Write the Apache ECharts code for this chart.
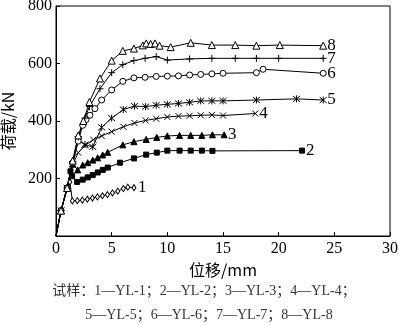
<!DOCTYPE html>
<html><head><meta charset="utf-8">
<script src="https://cdn.jsdelivr.net/npm/echarts@6/dist/echarts.min.js"></script>
<style>html,body{margin:0;padding:0;background:#fff}#c{width:400px;height:325px}</style>
</head><body><div id="c"></div>
<script>
// displacement (mm), load (kN)
const yl1 = [[0,0],[0.45,88],[1.0,167],[1.25,188],[1.47,122],[1.92,123],[2.37,125],[2.82,128],[3.27,132],[3.72,136],[4.17,140],[4.62,144],[5.07,150],[5.55,156],[6.05,165],[6.45,170],[7.0,168]];
const yl2 = [[0,0],[0.45,88],[1.0,167],[1.3,225],[1.45,208],[1.9,188],[2.4,196],[2.85,204],[3.3,212],[3.75,221],[4.2,230],[4.65,238],[5.75,255],[7.0,270],[8.1,283],[9.05,290],[10.0,297],[11.1,297],[12.1,297],[13.1,297],[14.05,296],[22.1,297]];
const yl3 = [[0,0],[0.45,88],[1.0,167],[1.5,250],[1.95,230],[2.4,247],[2.85,255],[3.3,264],[3.74,272],[4.19,282],[4.64,291],[6.0,317],[7.0,328],[8.1,336],[9.05,343],[10.0,348],[11.1,350],[12.1,350],[13.1,350],[14.05,352],[15.1,352]];
const yl4 = [[0,0],[0.45,88],[1.0,167],[1.5,250],[2.0,290],[2.6,315],[3.35,335],[4.1,348],[5.0,363],[6.05,380],[7.05,393],[8.05,402],[9.0,408],[10.0,414],[11.0,417],[12.0,418],[13.0,420],[14.0,421],[15.0,419],[17.9,426]];
const yl5 = [[0,0],[0.45,88],[1.0,167],[1.5,250],[2.0,335],[2.6,318],[3.3,310],[4.1,378],[5.0,410],[6.05,440],[7.05,452],[8.05,450],[9.0,455],[10.0,458],[11.0,461],[12.0,465],[13.0,470],[14.0,470],[15.0,470],[18.0,473],[21.6,477],[24.0,473]];
const yl6 = [[0,0],[0.45,88],[1.0,167],[1.5,255],[2.0,330],[2.4,385],[2.7,405],[3.05,420],[3.5,443],[4.1,473],[5.0,508],[6.0,538],[7.0,550],[8.0,552],[9.0,555],[10.0,556],[11.0,557],[12.0,560],[13.0,562],[14.0,564],[15.0,566],[18.0,568],[18.6,580],[24.0,566]];
const yl7 = [[0,0],[0.45,88],[1.0,167],[1.5,258],[2.0,345],[2.6,410],[3.0,450],[3.95,512],[5.0,568],[6.0,596],[7.0,610],[8.0,618],[9.0,624],[10.0,612],[12.0,616],[14.0,618],[16.1,618],[18.0,618],[20.0,618],[24.0,618]];
const yl8 = [[0,0],[0.45,88],[1.0,167],[1.5,262],[2.0,350],[2.46,400],[3.0,466],[3.95,548],[5.0,610],[6.0,644],[7.0,652],[7.8,663],[8.1,670],[8.5,668],[8.9,670],[9.3,662],[10.3,657],[12.1,672],[14.0,664],[16.1,664],[18.0,662],[20.1,664],[24.0,662]];
const curveLabels = ['1','2','3','4','5','6','7','8'];
const xTicks = [0,5,10,15,20,25,30];
const yTicks = [0,200,400,600,800];
const xName = '位移/mm';
const yName = '荷载/kN';
const caption1 = '试样：1—YL-1；2—YL-2；3—YL-3；4—YL-4；';
const caption2 = '5—YL-5；6—YL-6；7—YL-7；8—YL-8';

const CROSS = 'path://M0,0L10,10M10,0L0,10';
const STAR = 'path://M0,0L10,10M10,0L0,10M5,-1L5,11';
const PLUS = 'path://M5,0L5,10M0,5L10,5';
const marks = [
  {s:'diamond', size:[4,6], fill:'#fff'},
  {s:'rect', size:5, fill:'#000'},
  {s:'triangle', size:6, fill:'#000'},
  {s:CROSS, size:6, fill:'none'},
  {s:STAR, size:7, fill:'none'},
  {s:'circle', size:6, fill:'#fff'},
  {s:PLUS, size:7, fill:'none'},
  {s:'triangle', size:7, fill:'#fff'}
];
const all = [yl1,yl2,yl3,yl4,yl5,yl6,yl7,yl8];
const serif = '"Liberation Serif","DejaVu Serif",serif';

const series = all.map((d,i)=>({
  type:'line',
  data: d.map((p,j)=> j===0 ? {value:p, symbol:'none'} : p),
  symbol: marks[i].s,
  symbolSize: marks[i].size,
  showAllSymbol: true,
  lineStyle:{color:'#000', width:1},
  itemStyle:{color: marks[i].fill, borderColor:'#000', borderWidth:1},
  emphasis:{disabled:true},
  animation:false,
  endLabel:{show:true, formatter:curveLabels[i], color:'#000', fontFamily:serif, fontSize:17, distance:4}
}));

const chart = echarts.init(document.getElementById('c'), null, {renderer:'canvas'});
chart.setOption({
  animation:false,
  grid:{left:56, right:10, top:6, bottom:89, show:true, borderColor:'#000', borderWidth:1, backgroundColor:'transparent', outerBoundsMode:'none', containLabel:false},
  xAxis:{type:'value', min:xTicks[0], max:xTicks[xTicks.length-1], interval:5,
    axisLine:{lineStyle:{color:'#000', width:1}},
    axisTick:{inside:true, length:4, lineStyle:{color:'#000'}},
    splitLine:{show:false},
    axisLabel:{color:'#000', fontFamily:serif, fontSize:16, margin:5},
    name:xName, nameLocation:'middle', nameGap:18,
    nameTextStyle:{color:'#000', fontFamily:'"Noto Sans CJK SC",'+serif, fontSize:16, verticalAlign:'top'}},
  yAxis:{type:'value', min:yTicks[0], max:yTicks[yTicks.length-1], interval:200,
    axisLine:{show:true, lineStyle:{color:'#000', width:1}},
    axisTick:{show:true, inside:true, length:4, lineStyle:{color:'#000'}},
    splitLine:{show:false},
    axisLabel:{color:'#000', fontFamily:serif, fontSize:16, margin:4, showMinLabel:false},
    name:yName, nameLocation:'middle', nameGap:40, nameRotate:90,
    nameTextStyle:{color:'#000', fontFamily:'"Noto Sans CJK SC",'+serif, fontSize:16}},
  graphic:[
    {type:'text', x:204, y:291, style:{text:caption1, fill:'#333', font:'14px "Liberation Serif","Noto Sans CJK SC",serif', align:'center', verticalAlign:'middle'}},
    {type:'text', x:209, y:315, style:{text:caption2, fill:'#333', font:'14px "Liberation Serif","Noto Sans CJK SC",serif', align:'center', verticalAlign:'middle'}}
  ],
  series: series
});
</script></body></html>
